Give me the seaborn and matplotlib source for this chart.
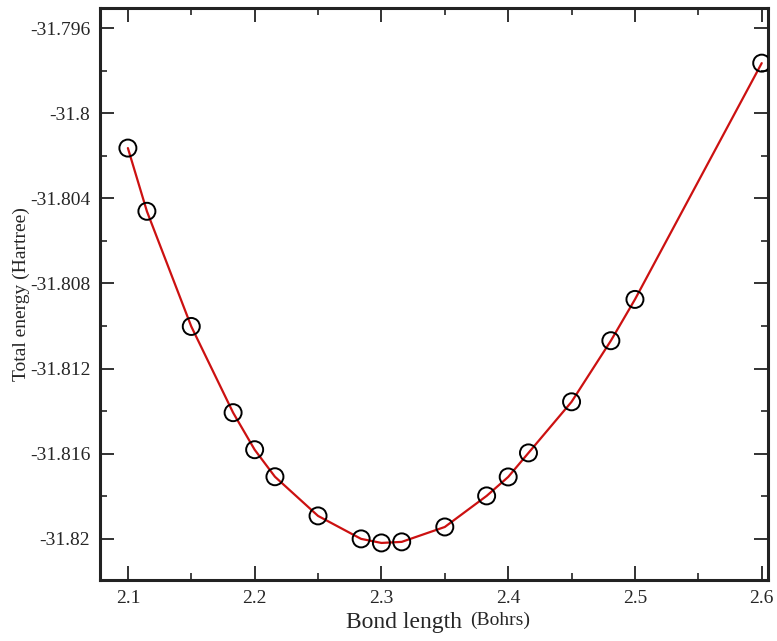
import matplotlib
matplotlib.use("Agg")
import matplotlib.pyplot as plt
import matplotlib.ticker as mticker
import seaborn as sns
import pandas as pd

bond_length = [2.1, 2.115, 2.15, 2.183, 2.2, 2.216, 2.25, 2.284, 2.3, 2.316,
               2.35, 2.383, 2.4, 2.416, 2.45, 2.481, 2.5, 2.6]
energy = [-31.80164, -31.80461, -31.81002, -31.81407, -31.81581, -31.81708,
          -31.81892, -31.82000, -31.82019, -31.82014, -31.81944, -31.81798,
          -31.81709, -31.81596, -31.81356, -31.81069, -31.80875, -31.79765]
x_ticks = [2.1, 2.2, 2.3, 2.4, 2.5, 2.6]
y_ticks = [-31.82, -31.816, -31.812, -31.808, -31.804, -31.8, -31.796]

df = pd.DataFrame({"bond": bond_length, "energy": energy})

sns.set_style("ticks")
plt.rcParams["font.family"] = ["Liberation Serif", "DejaVu Serif"]

fig = plt.figure(figsize=(7.77, 6.41), dpi=100)
ax = fig.add_axes([0.1287, 0.0952, 0.8593, 0.8923])

sns.lineplot(data=df, x="bond", y="energy", ax=ax, color="#cc1111",
             linewidth=1.6, sort=True)
sns.scatterplot(data=df, x="bond", y="energy", ax=ax, marker="o", s=150,
                facecolor="none", edgecolor="black", linewidth=1.4, zorder=5)

ax.set_xlim(2.078, 2.6047)
ax.set_ylim(-31.82193, -31.79506)
ax.set_xticks(x_ticks)
ax.set_yticks(y_ticks)
ax.xaxis.set_minor_locator(mticker.MultipleLocator(0.05))
ax.yaxis.set_minor_locator(mticker.MultipleLocator(0.002))
ax.yaxis.set_major_formatter(mticker.FuncFormatter(lambda v, p: "%g" % round(v, 3)))
ax.xaxis.set_major_formatter(mticker.FuncFormatter(lambda v, p: "%g" % round(v, 2)))

ax.tick_params(which="major", direction="in", length=10, width=1.3,
               top=True, right=True, labelsize=14, pad=7, color="#222222")
ax.tick_params(which="minor", direction="in", length=5, width=1.2,
               top=True, right=True, color="#222222")
for s in ax.spines.values():
    s.set_linewidth(2.2)
    s.set_color("#222222")

ax.set_xlabel("")
ax.set_ylabel("Total energy (Hartree)", fontsize=14)
ax.yaxis.set_label_coords(-0.105, 0.5)

fig.text(0.520, 0.012, "Bond length", fontsize=17, ha="center", va="bottom")
fig.text(0.605, 0.018, "(Bohrs)", fontsize=14, ha="left", va="bottom")

fig.savefig("out.png", dpi=100)
